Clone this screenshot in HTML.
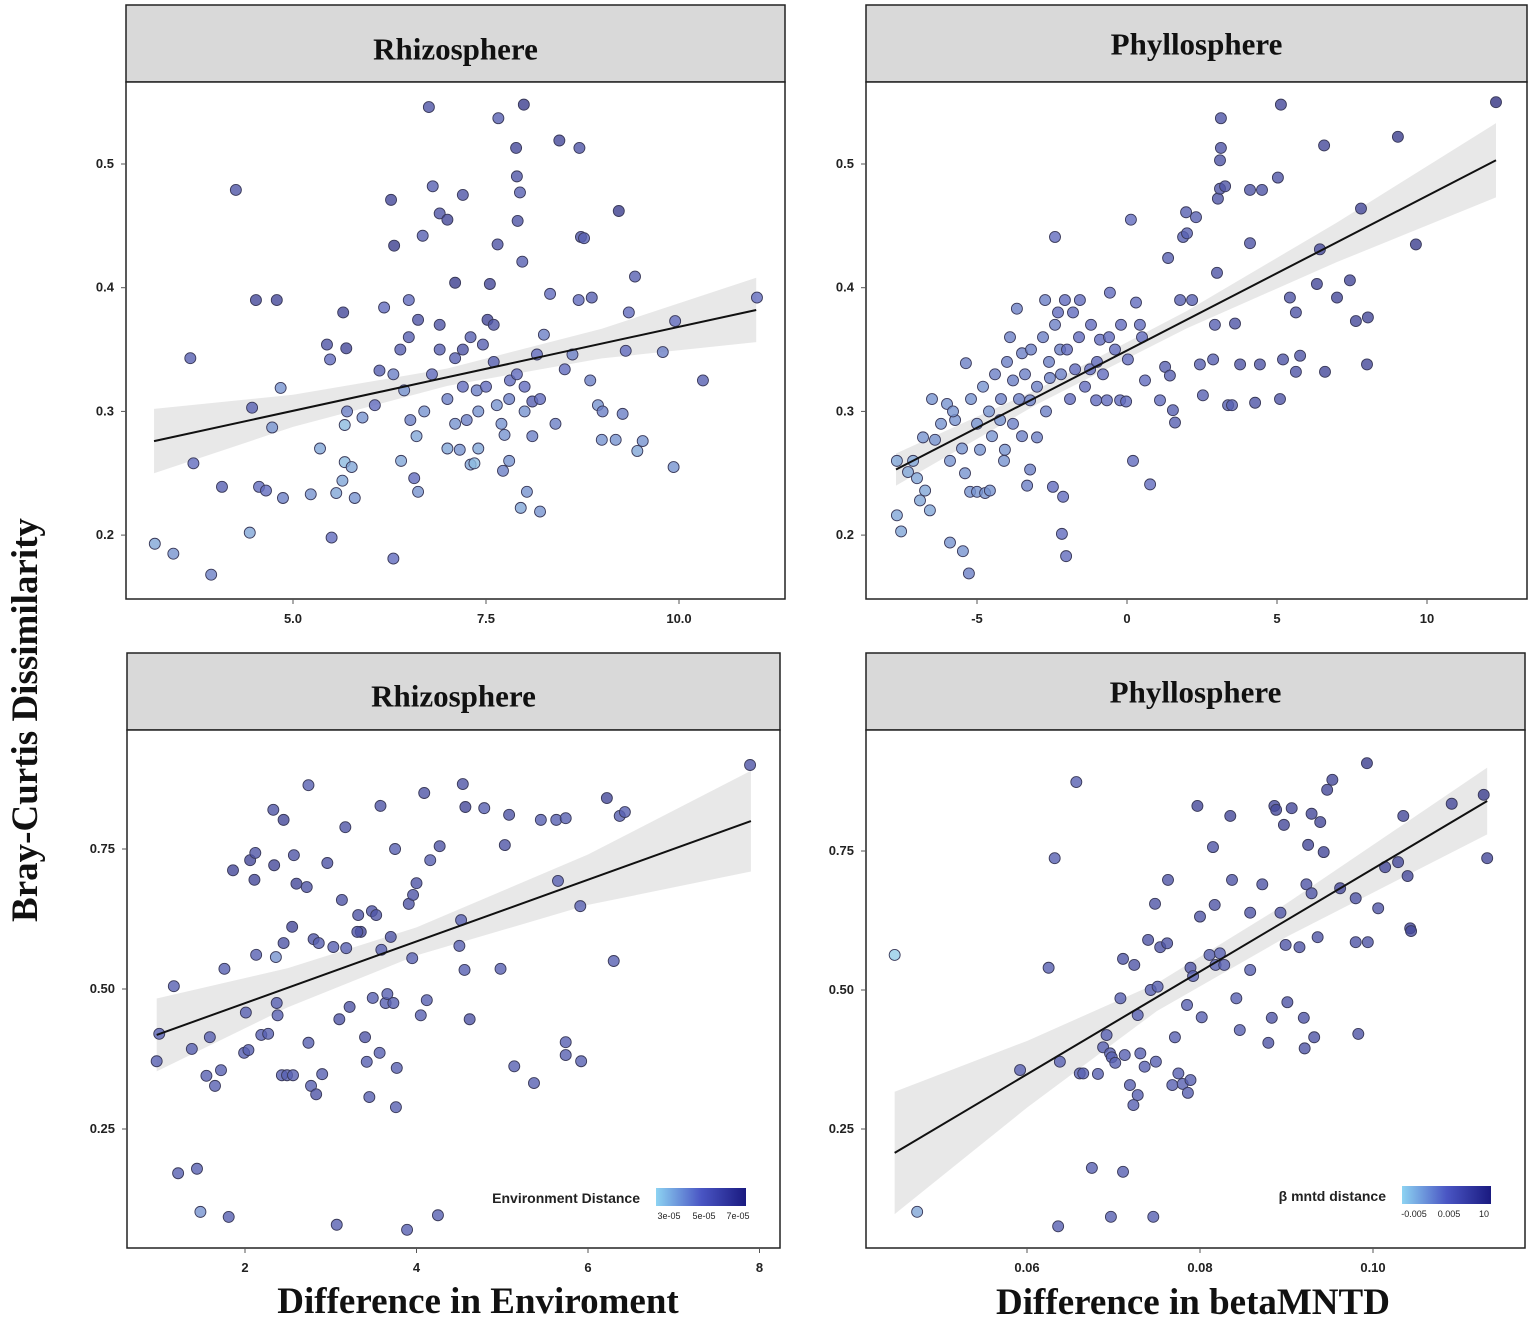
<!DOCTYPE html>
<html><head><meta charset="utf-8"><style>
html,body{margin:0;padding:0;background:#fff;}
svg{display:block;}
</style></head><body>
<svg id="chart" width="1532" height="1327" viewBox="0 0 1532 1327" xmlns="http://www.w3.org/2000/svg">
<defs>
<linearGradient id="g1" x1="0" x2="1" y1="0" y2="0"><stop offset="0" stop-color="#8dd3f2"/><stop offset="0.5" stop-color="#4a56c4"/><stop offset="1" stop-color="#1a1a80"/></linearGradient>
</defs>
<text x="37" y="720" transform="rotate(-90 37 720)" text-anchor="middle" font-family="Liberation Serif, serif" font-weight="bold" font-size="37" fill="#111">Bray-Curtis Dissimilarity</text>
<text x="478" y="1313" text-anchor="middle" font-family="Liberation Serif, serif" font-weight="bold" font-size="37" fill="#111">Difference in Enviroment</text>
<text x="1193" y="1314" text-anchor="middle" font-family="Liberation Serif, serif" font-weight="bold" font-size="37" fill="#111">Difference in betaMNTD</text>
<g id="panels"></g>
</svg>
<script>
// ---------- data ----------
const p1Points=[[3.21,0.193,0.2],[3.45,0.185,0.3],[3.94,0.168,0.4],[4.26,0.479,0.7],[3.67,0.343,0.6],[3.71,0.258,0.5],[4.08,0.239,0.6],[4.44,0.202,0.2],[4.47,0.303,0.6],[4.52,0.39,0.8],[4.79,0.39,0.8],[4.73,0.287,0.3],[4.84,0.319,0.3],[4.56,0.239,0.5],[4.65,0.236,0.5],[4.87,0.23,0.4],[5.23,0.233,0.3],[5.35,0.27,0.2],[5.5,0.198,0.5],[5.44,0.354,0.7],[5.48,0.342,0.5],[5.65,0.38,0.8],[5.69,0.351,0.8],[5.56,0.234,0.2],[5.64,0.244,0.2],[5.67,0.259,0.1],[5.76,0.255,0.2],[5.8,0.23,0.3],[5.7,0.3,0.4],[5.67,0.289,0.1],[5.9,0.295,0.3],[6.06,0.305,0.5],[6.12,0.333,0.6],[6.18,0.384,0.5],[6.27,0.471,0.8],[6.31,0.434,0.9],[6.3,0.181,0.5],[6.39,0.35,0.6],[6.44,0.317,0.3],[6.52,0.293,0.4],[6.57,0.246,0.5],[6.62,0.235,0.3],[6.5,0.39,0.5],[6.62,0.374,0.7],[6.68,0.442,0.6],[6.76,0.546,0.7],[6.81,0.482,0.6],[6.9,0.46,0.7],[7.0,0.455,0.8],[7.1,0.343,0.6],[7.2,0.475,0.7],[7.1,0.404,0.9],[7.16,0.269,0.3],[7.25,0.293,0.4],[7.3,0.257,0.2],[7.35,0.258,0.1],[7.38,0.317,0.4],[7.46,0.354,0.6],[7.52,0.374,0.8],[7.55,0.403,0.8],[7.64,0.305,0.3],[7.66,0.537,0.6],[7.65,0.435,0.7],[7.72,0.252,0.4],[7.74,0.281,0.3],[7.81,0.325,0.5],[7.89,0.513,0.8],[7.9,0.49,0.7],[7.94,0.477,0.6],[7.91,0.454,0.7],[7.97,0.421,0.6],[7.99,0.548,0.9],[8.03,0.235,0.3],[7.95,0.222,0.2],[8.2,0.219,0.3],[8.1,0.308,0.6],[8.16,0.346,0.5],[8.25,0.362,0.4],[8.33,0.395,0.5],[8.45,0.519,0.8],[8.52,0.334,0.5],[8.62,0.346,0.4],[8.71,0.513,0.7],[8.73,0.441,0.7],[8.77,0.44,0.6],[8.7,0.39,0.5],[8.87,0.392,0.6],[8.85,0.325,0.4],[8.95,0.305,0.3],[9.0,0.277,0.3],[9.01,0.3,0.4],[9.22,0.462,0.9],[9.18,0.277,0.3],[9.27,0.298,0.4],[9.31,0.349,0.5],[9.35,0.38,0.5],[9.43,0.409,0.6],[9.46,0.268,0.2],[9.53,0.276,0.3],[9.79,0.348,0.4],[9.95,0.373,0.5],[9.93,0.255,0.3],[10.31,0.325,0.6],[11.01,0.392,0.5],[6.8,0.33,0.5],[7.0,0.31,0.4],[7.2,0.32,0.5],[7.4,0.30,0.3],[7.6,0.34,0.6],[7.8,0.31,0.4],[8.0,0.30,0.3],[8.2,0.31,0.5],[6.5,0.36,0.6],[6.9,0.37,0.7],[7.3,0.36,0.6],[7.7,0.29,0.3],[8.1,0.28,0.4],[7.1,0.29,0.3],[6.7,0.30,0.3],[6.3,0.33,0.4],[7.5,0.32,0.5],[7.9,0.33,0.5],[8.4,0.29,0.4],[6.6,0.28,0.2],[7.0,0.27,0.2],[7.4,0.27,0.2],[8.0,0.32,0.5],[7.2,0.35,0.7],[6.9,0.35,0.6],[7.6,0.37,0.7],[6.4,0.26,0.2],[7.8,0.26,0.3]];
const p2Points=[[-7.67,0.216,0.2],[-7.53,0.203,0.2],[-7.67,0.26,0.2],[-7.3,0.251,0.2],[-7.13,0.26,0.2],[-7.0,0.246,0.2],[-6.9,0.228,0.2],[-6.57,0.22,0.2],[-6.73,0.236,0.2],[-6.8,0.279,0.3],[-6.4,0.277,0.3],[-6.0,0.306,0.3],[-5.9,0.194,0.3],[-5.73,0.293,0.3],[-5.47,0.187,0.3],[-5.37,0.339,0.4],[-5.23,0.235,0.3],[-5.0,0.235,0.3],[-4.73,0.234,0.3],[-4.57,0.236,0.3],[-5.27,0.169,0.4],[-4.9,0.269,0.3],[-4.23,0.293,0.3],[-4.07,0.269,0.3],[-3.67,0.383,0.4],[-3.8,0.325,0.4],[-3.5,0.347,0.4],[-3.23,0.309,0.4],[-3.23,0.253,0.4],[-3.33,0.24,0.4],[-3.0,0.279,0.4],[-2.73,0.39,0.4],[-2.57,0.327,0.4],[-2.4,0.441,0.5],[-2.47,0.239,0.5],[-2.13,0.231,0.5],[-2.17,0.201,0.5],[-2.03,0.183,0.5],[-2.23,0.35,0.4],[-2.07,0.39,0.5],[-1.73,0.334,0.5],[-1.57,0.39,0.5],[-1.23,0.334,0.5],[-1.03,0.309,0.5],[-0.9,0.358,0.5],[-0.57,0.396,0.5],[-0.67,0.309,0.5],[-0.23,0.309,0.5],[-0.03,0.308,0.5],[0.13,0.455,0.5],[0.2,0.26,0.5],[0.03,0.342,0.5],[0.3,0.388,0.5],[0.43,0.37,0.5],[0.6,0.325,0.5],[0.77,0.241,0.5],[1.1,0.309,0.5],[1.27,0.336,0.6],[1.37,0.424,0.6],[1.43,0.329,0.6],[1.53,0.301,0.6],[1.6,0.291,0.6],[1.77,0.39,0.6],[1.87,0.441,0.6],[2.0,0.444,0.6],[1.97,0.461,0.6],[2.3,0.457,0.6],[2.17,0.39,0.6],[2.43,0.338,0.6],[2.53,0.313,0.6],[2.93,0.37,0.6],[3.0,0.412,0.7],[2.87,0.342,0.6],[3.03,0.472,0.7],[3.1,0.48,0.7],[3.13,0.513,0.7],[3.13,0.537,0.7],[3.1,0.503,0.7],[3.27,0.482,0.7],[3.37,0.305,0.6],[3.5,0.305,0.6],[3.6,0.371,0.7],[3.77,0.338,0.7],[4.1,0.479,0.7],[4.1,0.436,0.7],[4.5,0.479,0.7],[4.43,0.338,0.7],[4.27,0.307,0.7],[5.03,0.489,0.7],[5.1,0.31,0.7],[5.13,0.548,0.8],[5.2,0.342,0.7],[5.43,0.392,0.7],[5.63,0.332,0.7],[5.77,0.345,0.7],[5.63,0.38,0.7],[6.43,0.431,0.8],[6.33,0.403,0.8],[6.57,0.515,0.8],[6.6,0.332,0.8],[7.0,0.392,0.8],[7.43,0.406,0.8],[7.63,0.373,0.8],[7.8,0.464,0.8],[8.0,0.338,0.8],[8.03,0.376,0.8],[9.03,0.522,0.9],[9.63,0.435,0.9],[12.3,0.55,1.0],[-6.2,0.29,0.3],[-5.8,0.30,0.3],[-5.5,0.27,0.3],[-5.2,0.31,0.3],[-5.0,0.29,0.3],[-4.8,0.32,0.3],[-4.6,0.30,0.3],[-4.4,0.33,0.4],[-4.2,0.31,0.4],[-4.0,0.34,0.4],[-3.8,0.29,0.4],[-3.6,0.31,0.4],[-3.4,0.33,0.4],[-3.2,0.35,0.4],[-3.0,0.32,0.4],[-2.8,0.36,0.4],[-2.6,0.34,0.4],[-2.4,0.37,0.4],[-2.2,0.33,0.4],[-2.0,0.35,0.5],[-1.8,0.38,0.5],[-1.6,0.36,0.5],[-1.4,0.32,0.5],[-1.2,0.37,0.5],[-1.0,0.34,0.5],[-0.8,0.33,0.5],[-0.6,0.36,0.5],[-0.4,0.35,0.5],[-5.4,0.25,0.3],[-4.5,0.28,0.3],[-3.5,0.28,0.4],[-6.5,0.31,0.3],[-2.7,0.30,0.4],[-1.9,0.31,0.5],[-4.1,0.26,0.3],[-5.9,0.26,0.3],[-3.9,0.36,0.4],[-2.3,0.38,0.5],[-0.2,0.37,0.5],[0.5,0.36,0.5]];
const p3Points=[[0.97,0.371,0.6],[1.0,0.42,0.6],[1.17,0.505,0.6],[1.22,0.171,0.6],[1.44,0.179,0.6],[1.38,0.393,0.6],[1.48,0.102,0.3],[1.55,0.345,0.6],[1.59,0.414,0.6],[1.65,0.327,0.6],[1.72,0.355,0.6],[1.76,0.536,0.6],[1.81,0.093,0.6],[1.86,0.712,0.8],[2.01,0.458,0.6],[1.99,0.386,0.6],[2.04,0.391,0.6],[2.06,0.73,0.8],[2.11,0.695,0.8],[2.12,0.743,0.7],[2.13,0.561,0.6],[2.19,0.418,0.6],[2.27,0.42,0.6],[2.33,0.82,0.7],[2.34,0.721,0.8],[2.36,0.557,0.3],[2.37,0.475,0.6],[2.38,0.453,0.6],[2.45,0.802,0.8],[2.43,0.346,0.6],[2.45,0.582,0.7],[2.49,0.346,0.6],[2.56,0.346,0.6],[2.55,0.611,0.8],[2.57,0.739,0.7],[2.6,0.688,0.8],[2.72,0.682,0.7],[2.74,0.864,0.6],[2.74,0.404,0.6],[2.77,0.327,0.6],[2.8,0.589,0.7],[2.83,0.312,0.7],[2.86,0.582,0.6],[2.9,0.348,0.6],[2.96,0.725,0.7],[3.03,0.575,0.6],[3.07,0.079,0.6],[3.1,0.446,0.7],[3.13,0.659,0.7],[3.17,0.789,0.7],[3.18,0.573,0.6],[3.22,0.468,0.7],[3.32,0.632,0.7],[3.35,0.602,0.8],[3.31,0.602,0.7],[3.4,0.414,0.7],[3.42,0.37,0.6],[3.45,0.307,0.6],[3.48,0.639,0.7],[3.53,0.632,0.7],[3.49,0.484,0.6],[3.57,0.386,0.6],[3.58,0.827,0.7],[3.59,0.57,0.6],[3.64,0.475,0.6],[3.66,0.491,0.6],[3.7,0.593,0.7],[3.73,0.475,0.6],[3.75,0.75,0.6],[3.76,0.289,0.6],[3.77,0.359,0.6],[3.89,0.07,0.6],[3.91,0.652,0.7],[3.95,0.555,0.6],[3.96,0.668,0.7],[4.0,0.689,0.7],[4.05,0.453,0.6],[4.09,0.85,0.7],[4.12,0.48,0.6],[4.16,0.73,0.6],[4.25,0.096,0.6],[4.27,0.755,0.7],[4.52,0.623,0.6],[4.5,0.577,0.6],[4.54,0.866,0.7],[4.57,0.825,0.8],[4.56,0.534,0.6],[4.62,0.446,0.7],[4.79,0.823,0.6],[4.98,0.536,0.6],[5.03,0.757,0.7],[5.08,0.811,0.7],[5.14,0.362,0.6],[5.37,0.332,0.6],[5.45,0.802,0.6],[5.63,0.802,0.6],[5.65,0.693,0.6],[5.74,0.805,0.6],[5.74,0.405,0.6],[5.74,0.382,0.6],[5.92,0.371,0.6],[5.91,0.648,0.6],[6.22,0.841,0.8],[6.3,0.55,0.6],[6.37,0.809,0.6],[6.43,0.816,0.6],[7.89,0.9,0.7]];
const p4Points=[[0.0447,0.563,0.0],[0.0473,0.101,0.2],[0.0592,0.356,0.6],[0.0625,0.54,0.6],[0.0632,0.737,0.6],[0.0636,0.075,0.6],[0.0638,0.371,0.6],[0.0657,0.874,0.6],[0.0661,0.35,0.6],[0.0665,0.35,0.6],[0.0675,0.18,0.6],[0.0682,0.349,0.6],[0.0688,0.397,0.6],[0.0692,0.419,0.6],[0.0696,0.386,0.6],[0.0697,0.092,0.6],[0.0698,0.379,0.6],[0.0702,0.369,0.6],[0.0708,0.485,0.6],[0.0711,0.556,0.7],[0.0711,0.173,0.6],[0.0713,0.383,0.6],[0.0719,0.329,0.6],[0.0723,0.293,0.6],[0.0724,0.545,0.7],[0.0728,0.311,0.6],[0.0728,0.455,0.6],[0.0731,0.386,0.6],[0.0736,0.362,0.6],[0.074,0.59,0.7],[0.0743,0.5,0.6],[0.0746,0.092,0.6],[0.0748,0.655,0.7],[0.0749,0.371,0.6],[0.0751,0.506,0.6],[0.0754,0.577,0.7],[0.0763,0.698,0.7],[0.0762,0.584,0.7],[0.0768,0.329,0.6],[0.0771,0.415,0.6],[0.0775,0.35,0.6],[0.078,0.331,0.6],[0.0785,0.473,0.6],[0.0786,0.315,0.6],[0.0789,0.338,0.6],[0.0789,0.54,0.7],[0.0792,0.525,0.6],[0.0797,0.831,0.8],[0.08,0.632,0.7],[0.0802,0.451,0.6],[0.0811,0.563,0.6],[0.0815,0.757,0.7],[0.0817,0.653,0.7],[0.0818,0.545,0.6],[0.0823,0.566,0.6],[0.0828,0.545,0.6],[0.0835,0.813,0.8],[0.0837,0.698,0.7],[0.0842,0.485,0.6],[0.0846,0.428,0.6],[0.0858,0.536,0.6],[0.0858,0.639,0.7],[0.0872,0.69,0.7],[0.0879,0.405,0.7],[0.0883,0.45,0.7],[0.0886,0.831,0.8],[0.0888,0.824,0.8],[0.0893,0.639,0.7],[0.0897,0.797,0.8],[0.0899,0.581,0.7],[0.0901,0.478,0.7],[0.0906,0.827,0.8],[0.0915,0.577,0.7],[0.092,0.45,0.7],[0.0921,0.395,0.7],[0.0923,0.69,0.7],[0.0925,0.761,0.8],[0.0929,0.674,0.7],[0.0929,0.817,0.8],[0.0932,0.415,0.7],[0.0936,0.595,0.7],[0.0939,0.802,0.8],[0.0943,0.748,0.8],[0.0947,0.86,0.8],[0.0953,0.878,0.8],[0.098,0.665,0.7],[0.098,0.586,0.7],[0.0983,0.421,0.7],[0.0993,0.908,0.9],[0.0994,0.586,0.7],[0.1006,0.647,0.7],[0.1014,0.721,0.8],[0.1029,0.73,0.8],[0.1035,0.813,0.8],[0.104,0.705,0.8],[0.1043,0.611,0.8],[0.1044,0.606,0.8],[0.1091,0.835,0.8],[0.1128,0.851,0.9],[0.1132,0.737,0.8],[0.0962,0.683,0.8]];
// fits: [x start, x end, intercept at x start, slope]
const p1Fit=[3.2,11.0,0.276,0.01359];
const p2Fit=[-7.7,12.3,0.253,0.0125];
const p3Fit=[0.97,7.9,0.418,0.0551];
const p4Fit=[0.0447,0.1132,0.207,9.24];
const p1CiX=[3.2,5,7,9,11.0], p1CiHalf=[0.026,0.013,0.007,0.012,0.026];
const p2CiX=[-7.7,-3,2,7,12.3], p2CiHalf=[0.013,0.006,0.007,0.016,0.03];
const p3CiX=[0.97,2.5,4,6,7.9], p3CiHalf=[0.065,0.035,0.025,0.045,0.09];
const p4CiX=[0.0447,0.06,0.075,0.09,0.1132], p4CiHalf=[0.11,0.06,0.025,0.03,0.06];
const p1XTicks=[5.0,7.5,10.0], p1XLabels=["5.0","7.5","10.0"];
const p1YTicks=[0.2,0.3,0.4,0.5], p1YLabels=["0.2","0.3","0.4","0.5"];
const p2XTicks=[-5,0,5,10], p2XLabels=["-5","0","5","10"];
const p2YTicks=[0.2,0.3,0.4,0.5], p2YLabels=["0.2","0.3","0.4","0.5"];
const p3XTicks=[2,4,6,8], p3XLabels=["2","4","6","8"];
const p3YTicks=[0.25,0.5,0.75], p3YLabels=["0.25","0.50","0.75"];
const p4XTicks=[0.06,0.08,0.10], p4XLabels=["0.06","0.08","0.10"];
const p4YTicks=[0.25,0.5,0.75], p4YLabels=["0.25","0.50","0.75"];

// ---------- drawing ----------
const NS="http://www.w3.org/2000/svg";
const root=document.getElementById('panels');
function mk(tag,attrs,parent){const e=document.createElementNS(NS,tag);for(const k in attrs)e.setAttribute(k,attrs[k]);(parent||root).appendChild(e);return e;}
function lerp(a,b,t){return Math.round(a+(b-a)*t);}
function colorOf(c){
  const s=[[150,205,232],[98,108,190],[50,50,130]];
  let a,b,t; if(c<0.5){a=s[0];b=s[1];t=c/0.5;}else{a=s[1];b=s[2];t=(c-0.5)/0.5;}
  return `rgb(${lerp(a[0],b[0],t)},${lerp(a[1],b[1],t)},${lerp(a[2],b[2],t)})`;
}
function panel(cfg){
  const g=mk('g',{});
  
  
  const sx=v=>cfg.x0+(v-cfg.xv0)*cfg.xk;
  const sy=v=>cfg.y0+(cfg.yv0-v)*cfg.yk;
  const hdr=mk('rect',{x:cfg.L,y:cfg.hT,width:cfg.R-cfg.L,height:cfg.T-cfg.hT,fill:'#d9d9d9',stroke:'#222','stroke-width':1.5},g);
  
  
  const ht=mk('text',{x:(cfg.L+cfg.R)/2,y:cfg.hT+(cfg.T-cfg.hT)/2+11+cfg.tdy,'text-anchor':'middle','font-family':'Liberation Serif, serif','font-weight':'bold','font-size':31,fill:'#111'},g);
  ht.textContent=cfg.title;
  
  
  mk('rect',{x:cfg.L,y:cfg.T,width:cfg.R-cfg.L,height:cfg.B-cfg.T,fill:'#fff',stroke:'none'},g);
  let up='',lo='';
  const f=cfg.fit;
  const line=x=>f[2]+(x-f[0])*f[3];
  cfg.ciX.forEach((x,i)=>{up+=`${sx(x)},${sy(line(x)+cfg.ciH[i])} `;});
  for(let i=cfg.ciX.length-1;i>=0;i--){const x=cfg.ciX[i];lo+=`${sx(x)},${sy(line(x)-cfg.ciH[i])} `;}
  const band=mk('polygon',{points:up+lo,fill:'#d8d8d8','fill-opacity':0.6},g);
  
  
  cfg.pts.forEach(p=>{
    const c=mk('circle',{cx:sx(p[0]),cy:sy(p[1]),r:5.5,fill:colorOf(p[2]),'fill-opacity':0.8,stroke:'#3a3a5a','stroke-width':0.9},g);
    
    
  });
  const ln=mk('line',{x1:sx(f[0]),y1:sy(line(f[0])),x2:sx(f[1]),y2:sy(line(f[1])),stroke:'#111','stroke-width':2},g);
  
  
  const fr=mk('rect',{x:cfg.L,y:cfg.T,width:cfg.R-cfg.L,height:cfg.B-cfg.T,fill:'none',stroke:'#222','stroke-width':1.5},g);
  
  
  cfg.xt.forEach((v,i)=>{
    const x=sx(v);
    mk('line',{x1:x,y1:cfg.B,x2:x,y2:cfg.B+5,stroke:'#555','stroke-width':1},g);
    const t=mk('text',{x:x,y:cfg.B+24,'text-anchor':'middle','font-family':'Liberation Sans, sans-serif','font-weight':'bold','font-size':13,fill:'#222'},g);
    t.textContent=cfg.xl[i];
    
    
  });
  cfg.yt.forEach((v,i)=>{
    const y=sy(v);
    mk('line',{x1:cfg.L-5,y1:y,x2:cfg.L,y2:y,stroke:'#555','stroke-width':1},g);
    const t=mk('text',{x:cfg.L-12,y:y+4,'text-anchor':'end','font-family':'Liberation Sans, sans-serif','font-weight':'bold','font-size':13,fill:'#222'},g);
    t.textContent=cfg.yl[i];
    
    
  });
  if(cfg.legend){
    const lg=cfg.legend;
    const lgG=mk('g',{},g);
    
    
    const tt=mk('text',{x:lg.x-16,y:lg.y+15,'text-anchor':'end','font-family':'Liberation Sans, sans-serif','font-weight':'bold','font-size':14,fill:'#222'},lgG);
    tt.textContent=lg.title;
    mk('rect',{x:lg.x,y:lg.y,width:lg.w,height:18,fill:'url(#g1)'},lgG);
    lg.labels.forEach((s,i)=>{
      const t=mk('text',{x:lg.x+lg.lx[i],y:lg.y+31,'text-anchor':'middle','font-family':'Liberation Sans, sans-serif','font-size':9,fill:'#222'},lgG);
      t.textContent=s;
    });
  }
}
panel({name:'panel-rhizosphere-environment-top',title:'Rhizosphere',tdy:5,L:126,R:785,hT:5,T:82,B:599,x0:293,xv0:5,xk:77.2,y0:164,yv0:0.5,yk:1237,pts:p1Points,fit:p1Fit,ciX:p1CiX,ciH:p1CiHalf,xt:p1XTicks,xl:p1XLabels,yt:p1YTicks,yl:p1YLabels});
panel({name:'panel-phyllosphere-top',title:'Phyllosphere',tdy:0,L:866,R:1527,hT:5,T:82,B:599,x0:1127,xv0:0,xk:30,y0:164,yv0:0.5,yk:1237,pts:p2Points,fit:p2Fit,ciX:p2CiX,ciH:p2CiHalf,xt:p2XTicks,xl:p2XLabels,yt:p2YTicks,yl:p2YLabels});
panel({name:'panel-rhizosphere-environment',title:'Rhizosphere',tdy:4,L:127,R:780,hT:653,T:730,B:1248,x0:245,xv0:2,xk:85.75,y0:849,yv0:0.75,yk:560,pts:p3Points,fit:p3Fit,ciX:p3CiX,ciH:p3CiHalf,xt:p3XTicks,xl:p3XLabels,yt:p3YTicks,yl:p3YLabels,
  legend:{x:656,y:1188,w:90,title:'Environment Distance',labels:['3e-05','5e-05','7e-05'],lx:[13,48,82]}});
panel({name:'panel-phyllosphere-betamntd',title:'Phyllosphere',tdy:0,L:866,R:1525,hT:653,T:730,B:1248,x0:1027,xv0:0.06,xk:8650,y0:851,yv0:0.75,yk:556,pts:p4Points,fit:p4Fit,ciX:p4CiX,ciH:p4CiHalf,xt:p4XTicks,xl:p4XLabels,yt:p4YTicks,yl:p4YLabels,
  legend:{x:1402,y:1186,w:89,title:'β mntd distance',labels:['-0.005','0.005','10'],lx:[12,47,82]}});
</script>
</body></html>
